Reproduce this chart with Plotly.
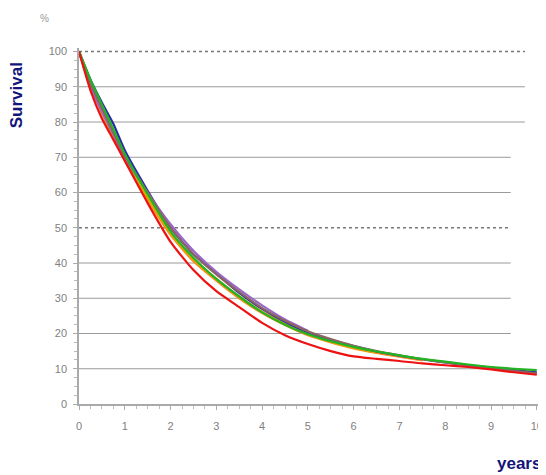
import plotly.graph_objects as go

t_full = [0, 0.25, 0.5, 0.75, 1, 1.5, 2, 2.5, 3, 3.5, 4, 4.5, 5, 5.5, 6,
          6.5, 7, 7.5, 8, 8.5, 9, 9.5, 10]

red = [100, 89, 81, 75, 69, 57, 46, 38, 32, 27.5, 23, 19.5, 17, 15, 13.5,
       12.8, 12.2, 11.5, 11, 10.5, 9.8, 9.0, 8.3]
orange = [100, 90, 82.5, 75.5, 69, 58, 48, 40.5, 35, 30, 25.8, 22.4, 19.5,
          17.5, 15.8, 14.5, 13.4, 12.4]
gold = [100, 90.5, 83, 76, 69.5, 58.5, 48.5, 41, 35.5, 30.5, 26.2, 22.8,
        19.8, 17.6, 15.9, 14.6]
green = [100, 92, 85, 78, 71, 59.5, 49, 41.5, 35.5, 30.5, 26, 22.5, 19.8,
         17.8, 16.2, 14.9, 13.8, 12.8, 12.0, 11.2, 10.5, 10.0, 9.6]
blue = [100, 92, 85.5, 79.5, 72, 60.5, 50, 42.5, 37, 31.5, 27, 23.3, 20.3,
        18.2, 16.4, 14.9, 13.7, 12.7, 11.8, 11.0, 10.3, 9.6, 9.0]
purple = [100, 90, 83, 76.5, 70, 60, 51, 43.5, 37.5, 32.5, 28, 24, 20.8]
brown = [100, 91, 84, 77, 70.5, 60, 50, 42.5, 36.8, 31.8, 27.2, 23.6, 20.6,
         18.4, 16.5, 15, 13.8, 12.7, 11.8, 11, 10.2, 9.4, 8.7]

series = [
    ("orange", orange, "#ff8c1a"),
    ("gold", gold, "#d9a800"),
    ("blue", blue, "#2a2aa8"),
    ("purple", purple, "#9a66c8"),
    ("brown", brown, "#8c6464"),
    ("green", green, "#22b422"),
    ("red", red, "#ee1111"),
]

grid_solid = [10, 20, 30, 40, 60, 70, 80, 90]
grid_dotted = [50, 100]
x_ticks = list(range(0, 11))
y_ticks = list(range(0, 101, 10))

fig = go.Figure()
for name, vals, col in series:
    fig.add_trace(go.Scatter(x=t_full[:len(vals)], y=vals, mode="lines",
                             line=dict(color=col, width=2.2, shape="spline", smoothing=0.6),
                             name=name, showlegend=False))

shapes = []
for g in grid_solid:
    xe = 9.74 if g >= 80 else 9.43
    shapes.append(dict(type="line", xref="x", yref="y", x0=0, x1=xe, y0=g, y1=g,
                       line=dict(color="#9a9a9a", width=1), layer="below"))
for g in grid_dotted:
    xe = 9.74 if g >= 80 else 9.43
    shapes.append(dict(type="line", xref="x", yref="y", x0=0, x1=xe, y0=g, y1=g,
                       line=dict(color="#777777", width=1.5, dash="dot"), layer="below"))

fig.update_layout(
    width=538, height=467,
    margin=dict(l=71, r=6, t=40, b=71),
    paper_bgcolor="white", plot_bgcolor="white",
    shapes=shapes,
    font=dict(family="Liberation Sans, Arial", color="#808080", size=11),
    xaxis=dict(range=[0, 10.07], tickvals=x_ticks, showgrid=False, zeroline=False,
               automargin=False,
               showline=True, linecolor="#aaaaaa", linewidth=1.5,
               ticks="outside", ticklen=4, tickcolor="#aaaaaa",
               ticklabelstandoff=7,
               minor=dict(dtick=0.25, ticks="outside", ticklen=3, tickcolor="#bbbbbb"),
               tickfont=dict(size=11, color="#808080")),
    yaxis=dict(range=[0, 101], tickvals=y_ticks, showgrid=False, zeroline=False,
               automargin=False,
               showline=True, linecolor="#aaaaaa", linewidth=1.5,
               ticks="outside", ticklen=4, tickcolor="#aaaaaa",
               ticklabelstandoff=4,
               minor=dict(dtick=2.5, ticks="outside", ticklen=3, tickcolor="#bbbbbb"),
               tickfont=dict(size=11, color="#808080")),
    annotations=[
        dict(text="%", xref="paper", yref="paper", x=-0.074, y=1.084, xanchor="center",
             yanchor="middle", showarrow=False, font=dict(size=10, color="#999999")),
        dict(text="<b>Survival</b>", xref="paper", yref="paper", x=-0.134, y=0.868,
             xanchor="center", yanchor="middle", textangle=-90, showarrow=False,
             font=dict(size=17, color="#13137a", family="Liberation Sans, Arial")),
        dict(text="<b>years</b>", xref="paper", yref="paper", x=1.006, y=-0.166,
             xanchor="right", yanchor="middle", showarrow=False,
             font=dict(size=17, color="#13137a", family="Liberation Sans, Arial")),
    ],
)

fig.write_html("out.html")
